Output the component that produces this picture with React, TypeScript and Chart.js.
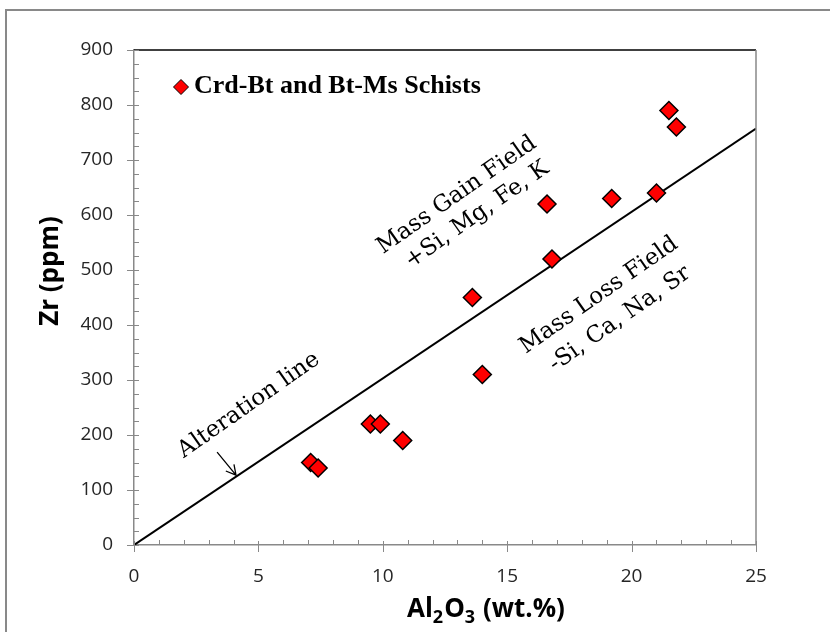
import React, { useEffect, useRef } from "react";
import { Chart, registerables } from "chart.js";

Chart.register(...registerables);

// ---- data ----
const seriesName = "Crd-Bt and Bt-Ms Schists";
const al2o3Values = [7.1, 7.4, 9.5, 9.9, 10.8, 13.6, 14.0, 16.6, 16.8, 19.2, 21.0, 21.5, 21.8];
const zrValues = [150, 140, 220, 220, 190, 450, 310, 620, 520, 630, 640, 790, 760];
const alterationLineX = [0, 25];
const alterationLineY = [0, 757];
const xMin = 0, xMax = 25, xStep = 5, xMinorStep = 1;
const yMin = 0, yMax = 900, yStep = 100, yMinorStep = 25;
const yAxisTitle = "Zr (ppm)";
const xAxisTitleParts: [string, boolean][] = [["Al", false], ["2", true], ["O", false], ["3", true], [" (wt.%)", false]];
const annotationTexts = ["Alteration line", "Mass Gain Field", "+Si, Mg, Fe, K", "Mass Loss Field", "-Si, Ca, Na, Sr"];
const annotationX = [4.62, 12.98, 13.79, 18.69, 19.53];
const annotationY = [254, 636, 600, 454, 411];
const arrowFrom = [3.34, 169];
const arrowTo = [4.1, 127];

const GRAY = "#898989";
const ANGLE = (-35 * Math.PI) / 180;

const overlay = {
  id: "overlay",
  beforeDraw(chart: any) {
    const { ctx, width, height } = chart;
    ctx.save();
    ctx.fillStyle = "#fff";
    ctx.fillRect(0, 0, width, height);
    ctx.strokeStyle = GRAY;
    ctx.lineWidth = 2;
    ctx.strokeRect(6, 10, width + 50, height + 50);
    ctx.restore();
  },
  afterDraw(chart: any) {
    const { ctx, chartArea: a, scales } = chart;
    const x = scales.x, y = scales.y;
    ctx.save();
    // frame top and right
    ctx.lineWidth = 1.5;
    ctx.strokeStyle = "#000";
    ctx.beginPath();
    ctx.moveTo(a.left, a.top);
    ctx.lineTo(a.right, a.top);
    ctx.stroke();
    ctx.strokeStyle = GRAY;
    ctx.beginPath();
    ctx.moveTo(a.right, a.top);
    ctx.lineTo(a.right, a.bottom);
    ctx.stroke();

    // ticks
    ctx.lineWidth = 1;
    ctx.strokeStyle = GRAY;
    for (let v = xMin; v <= xMax + 1e-9; v += xMinorStep) {
      const px = Math.round(x.getPixelForValue(v)) + 0.5;
      const major = Math.abs(v / xStep - Math.round(v / xStep)) < 1e-9;
      ctx.beginPath();
      ctx.moveTo(px, a.bottom - (major ? 4 : 5));
      ctx.lineTo(px, a.bottom + (major ? 7 : 0));
      ctx.stroke();
    }
    for (let v = yMin; v <= yMax + 1e-9; v += yMinorStep) {
      const py = Math.round(y.getPixelForValue(v)) + 0.5;
      const major = Math.abs(v / yStep - Math.round(v / yStep)) < 1e-9;
      ctx.beginPath();
      ctx.moveTo(a.left - (major ? 7 : 0), py);
      ctx.lineTo(a.left + 5, py);
      ctx.stroke();
    }

    // legend
    const lx = a.left + 47, ly = a.top + 37;
    const r = 7.5;
    ctx.beginPath();
    ctx.moveTo(lx - r, ly);
    ctx.lineTo(lx, ly - r);
    ctx.lineTo(lx + r, ly);
    ctx.lineTo(lx, ly + r);
    ctx.closePath();
    ctx.fillStyle = "#ff0000";
    ctx.fill();
    ctx.lineWidth = 1;
    ctx.strokeStyle = "#000";
    ctx.stroke();
    ctx.fillStyle = "#000";
    ctx.font = "bold 26px 'Liberation Serif'";
    ctx.textAlign = "left";
    ctx.textBaseline = "alphabetic";
    ctx.fillText(chart.data.datasets[0].label, lx + 13, a.top + 43);

    // y axis title
    ctx.save();
    ctx.translate(51, 271);
    ctx.rotate(-Math.PI / 2);
    ctx.font = "bold 26px 'Open Sans'";
    ctx.textAlign = "center";
    ctx.textBaseline = "middle";
    ctx.fillText(yAxisTitle, 0, 0);
    ctx.restore();

    // x axis title with subscripts
    let tx = 407;
    const ty = 617;
    ctx.textAlign = "left";
    ctx.textBaseline = "alphabetic";
    for (const [part, sub] of xAxisTitleParts) {
      ctx.font = sub ? "bold 18px 'Open Sans'" : "bold 26px 'Open Sans'";
      ctx.fillText(part, tx, sub ? ty + 6 : ty);
      tx += ctx.measureText(part).width + (sub ? 1 : 0);
    }

    // annotations
    ctx.font = "23px 'DejaVu Serif'";
    ctx.textAlign = "center";
    ctx.textBaseline = "middle";
    annotationTexts.forEach((t, i) => {
      ctx.save();
      ctx.translate(x.getPixelForValue(annotationX[i]), y.getPixelForValue(annotationY[i]));
      ctx.rotate(ANGLE);
      ctx.fillText(t, 0, 0);
      ctx.restore();
    });

    // arrow
    const x0 = x.getPixelForValue(arrowFrom[0]), y0 = y.getPixelForValue(arrowFrom[1]);
    const x1 = x.getPixelForValue(arrowTo[0]), y1 = y.getPixelForValue(arrowTo[1]);
    ctx.strokeStyle = "#000";
    ctx.lineWidth = 1.3;
    ctx.beginPath();
    ctx.moveTo(x0, y0);
    ctx.lineTo(x1, y1);
    const ang = Math.atan2(y1 - y0, x1 - x0);
    const head = 11;
    ctx.moveTo(x1 - head * Math.cos(ang - 0.5), y1 - head * Math.sin(ang - 0.5));
    ctx.lineTo(x1, y1);
    ctx.lineTo(x1 - head * Math.cos(ang + 0.5), y1 - head * Math.sin(ang + 0.5));
    ctx.stroke();
    ctx.restore();
  },
};

export default function App() {
  const ref = useRef<HTMLCanvasElement>(null);
  useEffect(() => {
    if (!ref.current) return;
    const chart = new Chart(ref.current, {
      type: "scatter",
      data: {
        datasets: [
          {
            label: seriesName,
            data: al2o3Values.map((v, i) => ({ x: v, y: zrValues[i] })),
            pointStyle: "rectRot",
            pointRadius: 9,
            pointBackgroundColor: "#ff0000",
            pointBorderColor: "#000",
            pointBorderWidth: 1.5,
            showLine: false,
          },
          {
            label: "Alteration line",
            data: alterationLineX.map((v, i) => ({ x: v, y: alterationLineY[i] })),
            showLine: true,
            borderColor: "#000",
            borderWidth: 2,
            pointRadius: 0,
            fill: false,
          },
        ],
      },
      options: {
        responsive: false,
        animation: false,
        layout: { padding: { top: 50, right: 74, left: 0, bottom: 0 } },
        plugins: { legend: { display: false }, tooltip: { enabled: false } },
        scales: {
          x: {
            type: "linear",
            min: xMin,
            max: xMax,
            afterFit: (s: any) => { s.height = 87; },
            ticks: { stepSize: xStep, padding: 20, color: "#262626", font: { family: "'Open Sans'", size: 19 } },
            grid: { display: false, drawTicks: false },
            border: { display: true, color: GRAY, width: 1.5 },
          },
          y: {
            type: "linear",
            min: yMin,
            max: yMax,
            afterFit: (s: any) => { s.width = 134; },
            ticks: { stepSize: yStep, padding: 21, color: "#262626", font: { family: "'Open Sans'", size: 19 } },
            grid: { display: false, drawTicks: false },
            border: { display: true, color: GRAY, width: 1.5 },
          },
        },
      },
      plugins: [overlay],
    });
    return () => chart.destroy();
  }, []);
  return (
    <div style={{ position: "absolute", left: 0, top: 0, width: 830, height: 632, overflow: "hidden" }}>
      <canvas ref={ref} width={830} height={632} style={{ display: "block", width: 830, height: 632 }} />
    </div>
  );
}
